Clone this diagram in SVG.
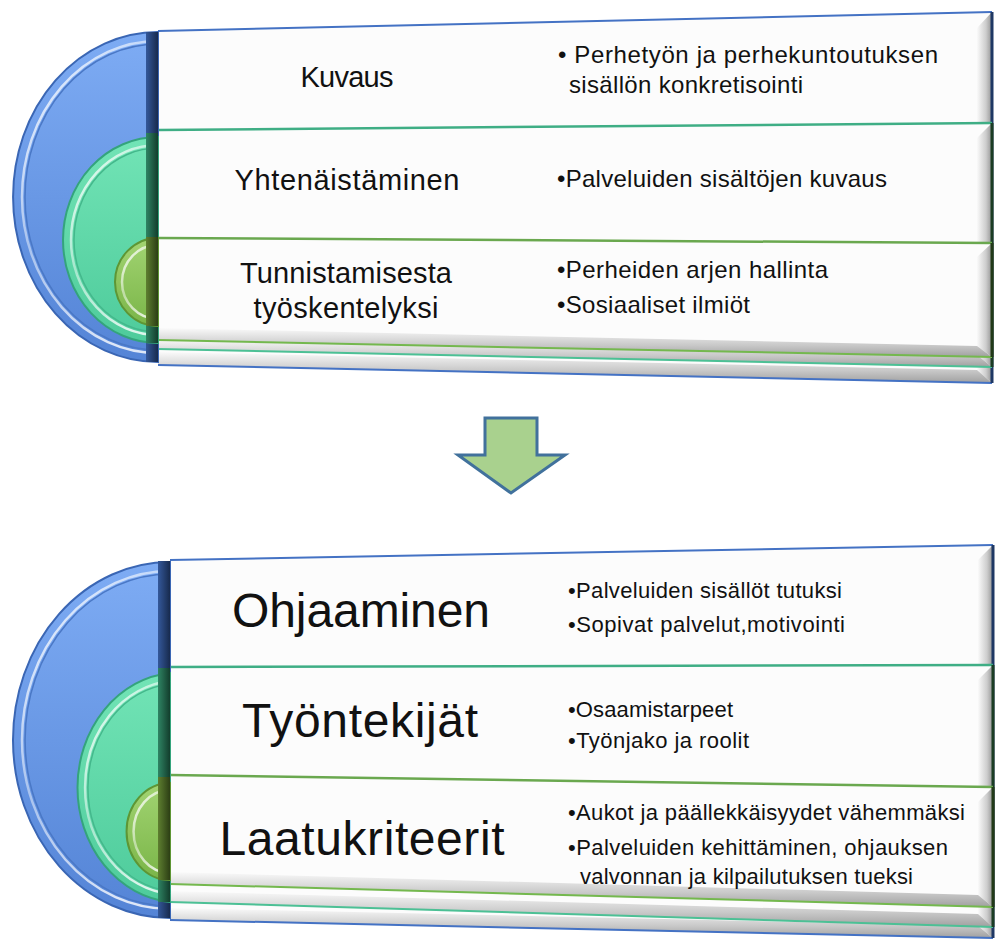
<svg xmlns="http://www.w3.org/2000/svg" width="1003" height="945" viewBox="0 0 1003 945">
<defs>
<style>
.lbl{font-family:"Liberation Sans",Arial,sans-serif;fill:#111;text-anchor:middle}
.bul{font-family:"Liberation Sans",Arial,sans-serif;fill:#111}
.card{fill:#fcfcfc}
.rbev{fill:url(#bevR)}
.bbev{fill:url(#bevB)}
.hl{fill:none;stroke:url(#hlg);stroke-width:2.5}
</style>
<linearGradient id="gBlue" x1="0" y1="0" x2="0" y2="1"><stop offset="0" stop-color="#7eacf4"/><stop offset="1" stop-color="#5484d6"/></linearGradient>
<linearGradient id="gTeal" x1="0" y1="0" x2="0" y2="1"><stop offset="0" stop-color="#72e4b6"/><stop offset="1" stop-color="#4ecb9b"/></linearGradient>
<linearGradient id="gOlive" x1="0" y1="0" x2="0" y2="1"><stop offset="0" stop-color="#a2d472"/><stop offset="1" stop-color="#7ab548"/></linearGradient>
<linearGradient id="dBlue" x1="0" y1="0" x2="1" y2="0"><stop offset="0" stop-color="#34589a"/><stop offset="1" stop-color="#172a4d"/></linearGradient>
<linearGradient id="dTeal" x1="0" y1="0" x2="1" y2="0"><stop offset="0" stop-color="#2f8464"/><stop offset="1" stop-color="#123d2c"/></linearGradient>
<linearGradient id="dOlive" x1="0" y1="0" x2="1" y2="0"><stop offset="0" stop-color="#5e7f30"/><stop offset="1" stop-color="#2c3e14"/></linearGradient>
<linearGradient id="bevR" x1="0" y1="0" x2="1" y2="0"><stop offset="0" stop-color="#fafafa"/><stop offset="0.6" stop-color="#cdcdcd"/><stop offset="1" stop-color="#939393"/></linearGradient>
<linearGradient id="bevB" x1="0" y1="0" x2="0" y2="1"><stop offset="0" stop-color="#fafafa"/><stop offset="0.6" stop-color="#c8c8c8"/><stop offset="1" stop-color="#a0a0a0"/></linearGradient>
<linearGradient id="hlg" x1="0" y1="0" x2="0.6" y2="1"><stop offset="0" stop-color="#ffffff" stop-opacity="0.95"/><stop offset="0.5" stop-color="#ffffff" stop-opacity="0.45"/><stop offset="1" stop-color="#ffffff" stop-opacity="0.8"/></linearGradient>
</defs>

<!-- ===== Top block ===== -->
<g id="top-card-blue">
<polygon class="card" points="158,31 992,12 992,383 158,365"/>
<polygon class="rbev" points="977,28 992,12 992,383 977,370"/>
<polygon class="bbev" points="158,352 977,370 992,383 158,365"/>
<line x1="158" y1="31" x2="992" y2="12" stroke="#4472c4" stroke-width="2"/>
<line x1="158" y1="365" x2="992" y2="383" stroke="#4472c4" stroke-width="2"/>
<line x1="992" y1="12" x2="992" y2="383" stroke="#1f3864" stroke-width="3"/>
</g>
<g id="top-card-teal">
<polygon class="card" points="158,130 992,123 992,367 158,349"/>
<polygon class="rbev" points="977,138 992,123 992,367 977,355"/>
<polygon class="bbev" points="158,339 977,355 992,367 158,349"/>
<line x1="158" y1="130" x2="992" y2="123" stroke="#3fae85" stroke-width="2.5"/>
<line x1="158" y1="349" x2="992" y2="367" stroke="#4cc095" stroke-width="2"/>
<line x1="992" y1="123" x2="992" y2="367" stroke="#1b3d24" stroke-width="3"/>
</g>
<g id="top-card-olive">
<polygon class="card" points="158,238 992,243 992,357 158,340"/>
<polygon class="rbev" points="977,257 992,243 992,357 977,346"/>
<polygon class="bbev" points="158,328 977,346 992,357 158,340"/>
<line x1="158" y1="238" x2="992" y2="243" stroke="#6aa84f" stroke-width="2.5"/>
<line x1="158" y1="340" x2="992" y2="357" stroke="#74b84e" stroke-width="2"/>
<line x1="992" y1="243" x2="992" y2="357" stroke="#223a18" stroke-width="3"/>
</g>

<g id="top-semi-blue">
<path d="M158,32 A145,165 0 0 0 158,362 Z" fill="url(#gBlue)" stroke="#3a66b4" stroke-width="2"/>
<path d="M158,41 A136,156 0 0 0 158,353" class="hl"/>
<path d="M158,44 A133,153 0 0 0 158,350" fill="none" stroke="#4a78c6" stroke-width="1.5"/>
<rect x="146" y="32" width="12" height="330" fill="url(#dBlue)"/>
</g>
<g id="top-semi-teal">
<path d="M158,137 A95,103 0 0 0 158,343 Z" fill="url(#gTeal)" stroke="#34a47c" stroke-width="2"/>
<path d="M158,145 A87,95 0 0 0 158,335" class="hl"/>
<path d="M158,148 A84,92 0 0 0 158,332" fill="none" stroke="#44b88c" stroke-width="1.5"/>
<rect x="146" y="133" width="12" height="210" fill="url(#dTeal)"/>
</g>
<g id="top-semi-olive">
<path d="M158,238 A43,44 0 0 0 158,326 Z" fill="url(#gOlive)" stroke="#5e9634" stroke-width="2"/>
<path d="M158,245 A36,37 0 0 0 158,319" class="hl"/>
<rect x="146" y="237" width="12" height="89" fill="url(#dOlive)"/>
</g>

<g id="top-labels">
<text class="lbl" x="347" y="87" font-size="29" textLength="93">Kuvaus</text>
<text class="lbl" x="347" y="190" font-size="29" textLength="225">Yhtenäistäminen</text>
<text class="lbl" x="346" y="283" font-size="29" textLength="212">Tunnistamisesta</text>
<text class="lbl" x="346" y="318" font-size="29" textLength="185">työskentelyksi</text>
</g>
<g id="top-bullets">
<text class="bul" x="558" y="63" font-size="24" textLength="380">• Perhetyön ja perhekuntoutuksen</text>
<text class="bul" x="569" y="93" font-size="24" textLength="234">sisällön konkretisointi</text>
<text class="bul" x="557" y="187" font-size="24" textLength="330">•Palveluiden sisältöjen kuvaus</text>
<text class="bul" x="557" y="278" font-size="24" textLength="271">•Perheiden arjen hallinta</text>
<text class="bul" x="557" y="313" font-size="24" textLength="193">•Sosiaaliset ilmiöt</text>
</g>

<!-- ===== Arrow ===== -->
<g id="connectors">
<polygon id="down-arrow" points="485,418 537,418 537,455 565,455 511,493 458,455 485,455" fill="#a9d18e" stroke="#41719c" stroke-width="3" stroke-linejoin="miter"/>
</g>

<!-- ===== Bottom block ===== -->
<g id="bottom-card-blue">
<polygon class="card" points="170,560 993,545 993,938 170,920"/>
<polygon class="rbev" points="978,560 993,545 993,938 978,926"/>
<polygon class="bbev" points="170,908 978,926 993,938 170,920"/>
<line x1="170" y1="560" x2="993" y2="545" stroke="#4472c4" stroke-width="2"/>
<line x1="170" y1="920" x2="993" y2="938" stroke="#4472c4" stroke-width="2"/>
<line x1="993" y1="545" x2="993" y2="938" stroke="#1f3864" stroke-width="3"/>
</g>
<g id="bottom-card-teal">
<polygon class="card" points="170,667 993,665 993,927 170,902"/>
<polygon class="rbev" points="978,680 993,665 993,927 978,914"/>
<polygon class="bbev" points="170,891 978,914 993,927 170,902"/>
<line x1="170" y1="667" x2="993" y2="665" stroke="#3fae85" stroke-width="2.5"/>
<line x1="170" y1="902" x2="993" y2="927" stroke="#4cc095" stroke-width="2"/>
<line x1="993" y1="665" x2="993" y2="927" stroke="#1b3d24" stroke-width="3"/>
</g>
<g id="bottom-card-olive">
<polygon class="card" points="170,775 993,787 993,907 170,884"/>
<polygon class="rbev" points="978,802 993,787 993,907 978,895"/>
<polygon class="bbev" points="170,872 978,895 993,907 170,884"/>
<line x1="170" y1="775" x2="993" y2="787" stroke="#6aa84f" stroke-width="2.5"/>
<line x1="170" y1="884" x2="993" y2="907" stroke="#74b84e" stroke-width="2"/>
<line x1="993" y1="787" x2="993" y2="907" stroke="#223a18" stroke-width="3"/>
</g>

<g id="bottom-semi-blue">
<path d="M170,562 A157,178 0 0 0 170,918 Z" fill="url(#gBlue)" stroke="#3a66b4" stroke-width="2"/>
<path d="M170,571 A148,169 0 0 0 170,909" class="hl"/>
<path d="M170,574 A145,166 0 0 0 170,906" fill="none" stroke="#4a78c6" stroke-width="1.5"/>
<rect x="158" y="561" width="12" height="357" fill="url(#dBlue)"/>
</g>
<g id="bottom-semi-teal">
<path d="M170,673 A102,115 0 0 0 170,902 Z" fill="url(#gTeal)" stroke="#34a47c" stroke-width="2"/>
<path d="M170,681 A94,107 0 0 0 170,894" class="hl"/>
<path d="M170,684 A91,104 0 0 0 170,891" fill="none" stroke="#44b88c" stroke-width="1.5"/>
<rect x="158" y="668" width="12" height="234" fill="url(#dTeal)"/>
</g>
<g id="bottom-semi-olive">
<path d="M170,783 A43,48 0 0 0 170,880 Z" fill="url(#gOlive)" stroke="#5e9634" stroke-width="2"/>
<path d="M170,790 A36,41 0 0 0 170,873" class="hl"/>
<rect x="158" y="777" width="12" height="103" fill="url(#dOlive)"/>
</g>

<g id="bottom-labels">
<text class="lbl" x="361" y="627" font-size="48" textLength="258">Ohjaaminen</text>
<text class="lbl" x="360" y="737" font-size="48" textLength="236">Työntekijät</text>
<text class="lbl" x="362" y="855" font-size="48" textLength="285">Laatukriteerit</text>
</g>
<g id="bottom-bullets">
<text class="bul" x="568" y="598" font-size="22" textLength="274">•Palveluiden sisällöt tutuksi</text>
<text class="bul" x="568" y="632" font-size="22" textLength="277">•Sopivat palvelut,motivointi</text>
<text class="bul" x="568" y="717" font-size="22" textLength="165">•Osaamistarpeet</text>
<text class="bul" x="568" y="748" font-size="22" textLength="181">•Työnjako ja roolit</text>
<text class="bul" x="568" y="820" font-size="22" textLength="397">•Aukot ja päällekkäisyydet vähemmäksi</text>
<text class="bul" x="568" y="855" font-size="22" textLength="380">•Palveluiden kehittäminen, ohjauksen</text>
<text class="bul" x="580" y="884" font-size="22" textLength="333">valvonnan ja kilpailutuksen tueksi</text>
</g>
</svg>
